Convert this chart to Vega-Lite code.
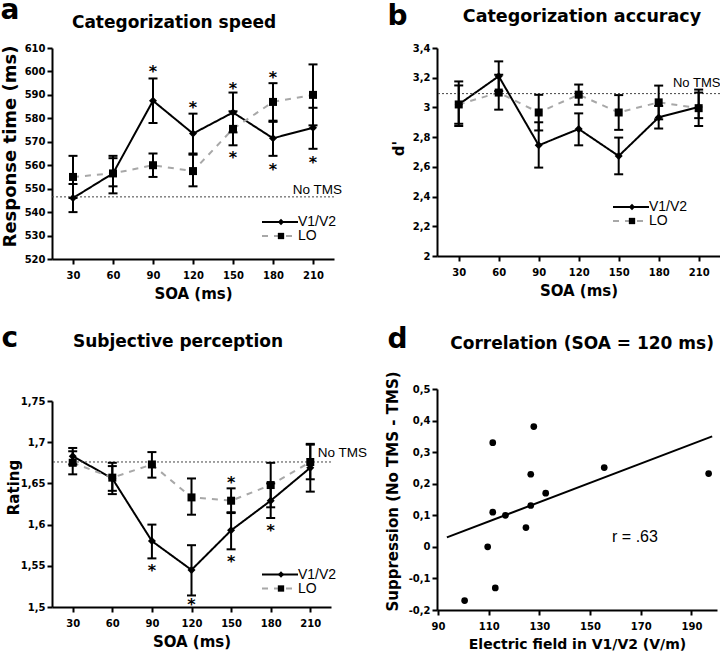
{
  "$schema": "https://vega.github.io/schema/vega-lite/v6.json",
  "background": "white",
  "padding": {"left": 0, "top": -3, "right": 0, "bottom": 0},
  "datasets": {
    "a": [
      {"soa": 30, "series": "V1/V2", "mean": 546, "lo": 540, "hi": 552},
      {"soa": 60, "series": "V1/V2", "mean": 556.5, "lo": 548, "hi": 564},
      {"soa": 90, "series": "V1/V2", "mean": 587.5, "lo": 578, "hi": 597},
      {"soa": 120, "series": "V1/V2", "mean": 573.5, "lo": 565, "hi": 582},
      {"soa": 150, "series": "V1/V2", "mean": 582.5, "lo": 574, "hi": 591},
      {"soa": 180, "series": "V1/V2", "mean": 571.5, "lo": 564, "hi": 578.5},
      {"soa": 210, "series": "V1/V2", "mean": 576, "lo": 567, "hi": 584.5},
      {"soa": 30, "series": "LO", "mean": 555, "lo": 546, "hi": 564},
      {"soa": 60, "series": "LO", "mean": 556.5, "lo": 551, "hi": 563},
      {"soa": 90, "series": "LO", "mean": 560, "lo": 555, "hi": 565},
      {"soa": 120, "series": "LO", "mean": 557.5, "lo": 551, "hi": 564.5},
      {"soa": 150, "series": "LO", "mean": 575.5, "lo": 568.5, "hi": 583},
      {"soa": 180, "series": "LO", "mean": 587, "lo": 579, "hi": 595},
      {"soa": 210, "series": "LO", "mean": 590, "lo": 577, "hi": 603}
    ],
    "a_star": [
      {"soa": 90, "y": 601.5}, {"soa": 120, "y": 586}, {"soa": 150, "y": 594.3},
      {"soa": 150, "y": 564.6}, {"soa": 180, "y": 598.7}, {"soa": 180, "y": 559.7},
      {"soa": 210, "y": 562.5}
    ],
    "b": [
      {"soa": 30, "series": "V1/V2", "mean": 3.02, "lo": 2.875, "hi": 3.175},
      {"soa": 60, "series": "V1/V2", "mean": 3.21, "lo": 3.11, "hi": 3.31},
      {"soa": 90, "series": "V1/V2", "mean": 2.745, "lo": 2.595, "hi": 2.9},
      {"soa": 120, "series": "V1/V2", "mean": 2.855, "lo": 2.745, "hi": 2.96},
      {"soa": 150, "series": "V1/V2", "mean": 2.673, "lo": 2.55, "hi": 2.797},
      {"soa": 180, "series": "V1/V2", "mean": 2.933, "lo": 2.858, "hi": 3.01},
      {"soa": 210, "series": "V1/V2", "mean": 3.003, "lo": 2.875, "hi": 3.12},
      {"soa": 30, "series": "LO", "mean": 3.02, "lo": 2.89, "hi": 3.148},
      {"soa": 60, "series": "LO", "mean": 3.1, "lo": 2.985, "hi": 3.22},
      {"soa": 90, "series": "LO", "mean": 2.966, "lo": 2.845, "hi": 3.085},
      {"soa": 120, "series": "LO", "mean": 3.086, "lo": 3.018, "hi": 3.154},
      {"soa": 150, "series": "LO", "mean": 2.966, "lo": 2.849, "hi": 3.083},
      {"soa": 180, "series": "LO", "mean": 3.034, "lo": 2.92, "hi": 3.147},
      {"soa": 210, "series": "LO", "mean": 2.995, "lo": 2.928, "hi": 3.1}
    ],
    "c": [
      {"soa": 30, "series": "V1/V2", "mean": 1.683, "lo": 1.673, "hi": 1.693},
      {"soa": 60, "series": "V1/V2", "mean": 1.656, "lo": 1.637, "hi": 1.675},
      {"soa": 90, "series": "V1/V2", "mean": 1.58, "lo": 1.559, "hi": 1.6},
      {"soa": 120, "series": "V1/V2", "mean": 1.545, "lo": 1.514, "hi": 1.575},
      {"soa": 150, "series": "V1/V2", "mean": 1.593, "lo": 1.57, "hi": 1.615},
      {"soa": 180, "series": "V1/V2", "mean": 1.629, "lo": 1.608, "hi": 1.65},
      {"soa": 210, "series": "V1/V2", "mean": 1.669, "lo": 1.64, "hi": 1.697},
      {"soa": 30, "series": "LO", "mean": 1.675, "lo": 1.661, "hi": 1.689},
      {"soa": 60, "series": "LO", "mean": 1.657, "lo": 1.641, "hi": 1.671},
      {"soa": 90, "series": "LO", "mean": 1.673, "lo": 1.657, "hi": 1.688},
      {"soa": 120, "series": "LO", "mean": 1.633, "lo": 1.612, "hi": 1.656},
      {"soa": 150, "series": "LO", "mean": 1.629, "lo": 1.614, "hi": 1.644},
      {"soa": 180, "series": "LO", "mean": 1.648, "lo": 1.621, "hi": 1.675},
      {"soa": 210, "series": "LO", "mean": 1.676, "lo": 1.655, "hi": 1.698}
    ],
    "c_star": [
      {"soa": 90, "y": 1.549}, {"soa": 120, "y": 1.507}, {"soa": 150, "y": 1.655},
      {"soa": 150, "y": 1.559}, {"soa": 180, "y": 1.597}
    ],
    "d": [
      {"field": 100.5, "supp": -0.17}, {"field": 111.6, "supp": 0.33},
      {"field": 127.8, "supp": 0.381}, {"field": 111.6, "supp": 0.11},
      {"field": 116.6, "supp": 0.1}, {"field": 109.6, "supp": 0.0},
      {"field": 112.6, "supp": -0.13}, {"field": 124.7, "supp": 0.061},
      {"field": 126.6, "supp": 0.23}, {"field": 126.6, "supp": 0.131},
      {"field": 132.5, "supp": 0.17}, {"field": 155.6, "supp": 0.251},
      {"field": 196.8, "supp": 0.232}
    ],
    "d_fit": [{"field": 93.5, "supp": 0.03}, {"field": 198.2, "supp": 0.35}],
    "one": [{}]
  },
  "resolve": {
    "scale": {"color": "independent", "strokeDash": "independent", "shape": "independent"},
    "legend": {"color": "independent", "strokeDash": "independent", "shape": "independent"}
  },
  "hconcat": [
    {
      "resolve": {
        "scale": {"color": "independent", "strokeDash": "independent", "shape": "independent"},
        "legend": {"color": "independent", "strokeDash": "independent", "shape": "independent"}
      },
      "vconcat": [
        {
          "width": 282, "height": 211,
          "layer": [
            {"data": {"name": "a"}, "mark": {"type": "line", "strokeWidth": 2},
             "encoding": {
               "x": {"field": "soa", "type": "quantitative", "scale": {"domain": [14.25, 225.75], "nice": false, "zero": false},
                     "axis": {"values": [30, 60, 90, 120, 150, 180, 210], "tickCount": 20, "title": "SOA (ms)", "titleFontSize": 15}},
               "y": {"field": "mean", "type": "quantitative", "scale": {"domain": [520, 610], "nice": false, "zero": false},
                     "axis": {"values": [520, 530, 540, 550, 560, 570, 580, 590, 600, 610], "tickCount": 20, "title": "Response time (ms)", "titleFontSize": 18, "titleY": 98, "titlePadding": 5}},
               "color": {"field": "series", "type": "nominal", "scale": {"domain": ["V1/V2", "LO"], "range": ["black", "#a8a8a8"]},
                         "legend": {"orient": "none", "legendX": 221, "legendY": 167, "title": null, "symbolType": "M-3.6,0H3.6", "symbolSize": 100, "symbolStrokeWidth": 2, "labelOffset": 11, "rowPadding": -2}},
               "strokeDash": {"field": "series", "type": "nominal", "scale": {"domain": ["V1/V2", "LO"], "range": [[1, 0], [6, 6]]},
                         "legend": {"orient": "none", "legendX": 221, "legendY": 167, "title": null, "symbolType": "M-3.6,0H3.6", "symbolSize": 100, "symbolStrokeWidth": 2, "labelOffset": 11, "rowPadding": -2}}
             }},
            {"data": {"name": "one"}, "mark": {"type": "text", "text": "a", "font": "DejaVu Sans", "fontWeight": "bold", "fontSize": 28, "align": "left", "baseline": "alphabetic"},
             "encoding": {"x": {"datum": -24.4, "type": "quantitative"}, "y": {"datum": 622.25, "type": "quantitative"}}},
            {"data": {"name": "one"}, "mark": {"type": "text", "text": "Categorization speed", "font": "DejaVu Sans", "fontWeight": "bold", "fontSize": 17, "align": "center", "baseline": "alphabetic"},
             "encoding": {"x": {"datum": 105.75, "type": "quantitative"}, "y": {"datum": 618.66, "type": "quantitative"}}},
            {"data": {"name": "one"}, "mark": {"type": "rule", "strokeDash": [2, 2], "color": "#444", "strokeWidth": 1},
             "encoding": {"y": {"datum": 546.5, "type": "quantitative"}}},
            {"data": {"name": "one"}, "mark": {"type": "text", "text": "No TMS", "font": "Liberation Sans", "fontSize": 13.5, "align": "right", "baseline": "alphabetic"},
             "encoding": {"x": {"datum": 231.75, "type": "quantitative"}, "y": {"datum": 547.85, "type": "quantitative"}}},
            {"data": {"name": "a"}, "mark": {"type": "rule", "strokeWidth": 2, "color": "black"},
             "encoding": {"x": {"field": "soa", "type": "quantitative"}, "y": {"field": "lo", "type": "quantitative"}, "y2": {"field": "hi"}}},
            {"data": {"name": "a"}, "mark": {"type": "tick", "orient": "horizontal", "size": 9, "thickness": 2, "color": "black", "opacity": 1},
             "encoding": {"x": {"field": "soa", "type": "quantitative"}, "y": {"field": "lo", "type": "quantitative"}}},
            {"data": {"name": "a"}, "mark": {"type": "tick", "orient": "horizontal", "size": 9, "thickness": 2, "color": "black", "opacity": 1},
             "encoding": {"x": {"field": "soa", "type": "quantitative"}, "y": {"field": "hi", "type": "quantitative"}}},
            {"data": {"name": "a"}, "mark": {"type": "point", "filled": true, "opacity": 1, "color": "black", "size": 64},
             "encoding": {"x": {"field": "soa", "type": "quantitative"}, "y": {"field": "mean", "type": "quantitative"},
               "shape": {"field": "series", "type": "nominal", "sort": ["V1/V2", "LO"], "scale": {"range": ["diamond", "square"]},
                         "legend": {"orient": "none", "legendX": 222, "legendY": 167, "title": null, "symbolSize": 40, "symbolFillColor": "black", "symbolStrokeWidth": 0, "labelExpr": "''", "rowPadding": -2}}}},
            {"data": {"name": "a_star"}, "mark": {"type": "text", "text": "*", "font": "DejaVu Sans", "fontWeight": "bold", "fontSize": 16, "baseline": "alphabetic", "dy": 9},
             "encoding": {"x": {"field": "soa", "type": "quantitative"}, "y": {"field": "y", "type": "quantitative"}}}
          ]
        },
        {
          "width": 279, "height": 206,
          "layer": [
            {"data": {"name": "c"}, "mark": {"type": "line", "strokeWidth": 2},
             "encoding": {
               "x": {"field": "soa", "type": "quantitative", "scale": {"domain": [14.3, 225.7], "nice": false, "zero": false},
                     "axis": {"values": [30, 60, 90, 120, 150, 180, 210], "tickCount": 20, "title": "SOA (ms)", "titleFontSize": 15}},
               "y": {"field": "mean", "type": "quantitative", "scale": {"domain": [1.5, 1.75], "nice": false, "zero": false},
                     "axis": {"values": [1.5, 1.55, 1.6, 1.65, 1.7, 1.75], "tickCount": 20, "labelExpr": "replace(toString(datum.value), '.', ',')", "title": "Rating", "titleFontSize": 15, "titleY": 86, "titlePadding": -1}},
               "color": {"field": "series", "type": "nominal", "scale": {"domain": ["V1/V2", "LO"], "range": ["black", "#a8a8a8"]},
                         "legend": {"orient": "none", "legendX": 221, "legendY": 166.5, "title": null, "symbolType": "M-3.6,0H3.6", "symbolSize": 100, "symbolStrokeWidth": 2, "labelOffset": 11, "rowPadding": -2}},
               "strokeDash": {"field": "series", "type": "nominal", "scale": {"domain": ["V1/V2", "LO"], "range": [[1, 0], [6, 6]]},
                         "legend": {"orient": "none", "legendX": 221, "legendY": 166.5, "title": null, "symbolType": "M-3.6,0H3.6", "symbolSize": 100, "symbolStrokeWidth": 2, "labelOffset": 11, "rowPadding": -2}}
             }},
            {"data": {"name": "one"}, "mark": {"type": "text", "text": "c", "font": "DejaVu Sans", "fontWeight": "bold", "fontSize": 28, "align": "left", "baseline": "alphabetic"},
             "encoding": {"x": {"datum": -23.96, "type": "quantitative"}, "y": {"datum": 1.8155, "type": "quantitative"}}},
            {"data": {"name": "one"}, "mark": {"type": "text", "text": "Subjective perception", "font": "DejaVu Sans", "fontWeight": "bold", "fontSize": 17, "align": "center", "baseline": "alphabetic"},
             "encoding": {"x": {"datum": 109.77, "type": "quantitative"}, "y": {"datum": 1.8152, "type": "quantitative"}}},
            {"data": {"name": "one"}, "mark": {"type": "rule", "strokeDash": [2, 2], "color": "#444", "strokeWidth": 1},
             "encoding": {"y": {"datum": 1.676, "type": "quantitative"}}},
            {"data": {"name": "one"}, "mark": {"type": "text", "text": "No TMS", "font": "Liberation Sans", "fontSize": 13.5, "align": "left", "baseline": "alphabetic"},
             "encoding": {"x": {"datum": 215.6, "type": "quantitative"}, "y": {"datum": 1.682, "type": "quantitative"}}},
            {"data": {"name": "c"}, "mark": {"type": "rule", "strokeWidth": 2, "color": "black"},
             "encoding": {"x": {"field": "soa", "type": "quantitative"}, "y": {"field": "lo", "type": "quantitative"}, "y2": {"field": "hi"}}},
            {"data": {"name": "c"}, "mark": {"type": "tick", "orient": "horizontal", "size": 9, "thickness": 2, "color": "black", "opacity": 1},
             "encoding": {"x": {"field": "soa", "type": "quantitative"}, "y": {"field": "lo", "type": "quantitative"}}},
            {"data": {"name": "c"}, "mark": {"type": "tick", "orient": "horizontal", "size": 9, "thickness": 2, "color": "black", "opacity": 1},
             "encoding": {"x": {"field": "soa", "type": "quantitative"}, "y": {"field": "hi", "type": "quantitative"}}},
            {"data": {"name": "c"}, "mark": {"type": "point", "filled": true, "opacity": 1, "color": "black", "size": 64},
             "encoding": {"x": {"field": "soa", "type": "quantitative"}, "y": {"field": "mean", "type": "quantitative"},
               "shape": {"field": "series", "type": "nominal", "sort": ["V1/V2", "LO"], "scale": {"range": ["diamond", "square"]},
                         "legend": {"orient": "none", "legendX": 222, "legendY": 166.5, "title": null, "symbolSize": 40, "symbolFillColor": "black", "symbolStrokeWidth": 0, "labelExpr": "''", "rowPadding": -2}}}},
            {"data": {"name": "c_star"}, "mark": {"type": "text", "text": "*", "font": "DejaVu Sans", "fontWeight": "bold", "fontSize": 16, "baseline": "alphabetic", "dy": 9},
             "encoding": {"x": {"field": "soa", "type": "quantitative"}, "y": {"field": "y", "type": "quantitative"}}}
          ]
        }
      ],
      "spacing": 142,
      "bounds": "flush"
    },
    {
      "resolve": {
        "scale": {"color": "independent", "strokeDash": "independent", "shape": "independent"},
        "legend": {"color": "independent", "strokeDash": "independent", "shape": "independent"}
      },
      "vconcat": [
        {
          "width": 283, "height": 208,
          "layer": [
            {"data": {"name": "b"}, "mark": {"type": "line", "strokeWidth": 2},
             "encoding": {
               "x": {"field": "soa", "type": "quantitative", "scale": {"domain": [13.7, 226], "nice": false, "zero": false},
                     "axis": {"values": [30, 60, 90, 120, 150, 180, 210], "tickCount": 20, "title": "SOA (ms)", "titleFontSize": 15}},
               "y": {"field": "mean", "type": "quantitative", "scale": {"domain": [2, 3.4], "nice": false, "zero": false},
                     "axis": {"values": [2, 2.2, 2.4, 2.6, 2.8, 3, 3.2, 3.4], "tickCount": 20, "labelExpr": "replace(toString(datum.value), '.', ',')", "title": "d'", "titleFontSize": 15, "titleY": 100, "titlePadding": 6}},
               "color": {"field": "series", "type": "nominal", "scale": {"domain": ["V1/V2", "LO"], "range": ["black", "#a8a8a8"]},
                         "legend": {"orient": "none", "legendX": 187, "legendY": 152, "title": null, "symbolType": "M-3.6,0H3.6", "symbolSize": 100, "symbolStrokeWidth": 2, "labelOffset": 11, "rowPadding": -2}},
               "strokeDash": {"field": "series", "type": "nominal", "scale": {"domain": ["V1/V2", "LO"], "range": [[1, 0], [6, 6]]},
                         "legend": {"orient": "none", "legendX": 187, "legendY": 152, "title": null, "symbolType": "M-3.6,0H3.6", "symbolSize": 100, "symbolStrokeWidth": 2, "labelOffset": 11, "rowPadding": -2}}
             }},
            {"data": {"name": "one"}, "mark": {"type": "text", "text": "b", "font": "DejaVu Sans", "fontWeight": "bold", "fontSize": 28, "align": "left", "baseline": "alphabetic"},
             "encoding": {"x": {"datum": -23.4, "type": "quantitative"}, "y": {"datum": 3.555, "type": "quantitative"}}},
            {"data": {"name": "one"}, "mark": {"type": "text", "text": "Categorization accuracy", "font": "DejaVu Sans", "fontWeight": "bold", "fontSize": 17.5, "align": "center", "baseline": "alphabetic"},
             "encoding": {"x": {"datum": 122.45, "type": "quantitative"}, "y": {"datum": 3.577, "type": "quantitative"}}},
            {"data": {"name": "one"}, "mark": {"type": "rule", "strokeDash": [2, 2], "color": "#444", "strokeWidth": 1},
             "encoding": {"y": {"datum": 3.093, "type": "quantitative"}}},
            {"data": {"name": "one"}, "mark": {"type": "text", "text": "No TMS", "font": "Liberation Sans", "fontSize": 13, "align": "left", "baseline": "alphabetic"},
             "encoding": {"x": {"datum": 190.7, "type": "quantitative"}, "y": {"datum": 3.14, "type": "quantitative"}}},
            {"data": {"name": "b"}, "mark": {"type": "rule", "strokeWidth": 2, "color": "black"},
             "encoding": {"x": {"field": "soa", "type": "quantitative"}, "y": {"field": "lo", "type": "quantitative"}, "y2": {"field": "hi"}}},
            {"data": {"name": "b"}, "mark": {"type": "tick", "orient": "horizontal", "size": 9, "thickness": 2, "color": "black", "opacity": 1},
             "encoding": {"x": {"field": "soa", "type": "quantitative"}, "y": {"field": "lo", "type": "quantitative"}}},
            {"data": {"name": "b"}, "mark": {"type": "tick", "orient": "horizontal", "size": 9, "thickness": 2, "color": "black", "opacity": 1},
             "encoding": {"x": {"field": "soa", "type": "quantitative"}, "y": {"field": "hi", "type": "quantitative"}}},
            {"data": {"name": "b"}, "mark": {"type": "point", "filled": true, "opacity": 1, "color": "black", "size": 64},
             "encoding": {"x": {"field": "soa", "type": "quantitative"}, "y": {"field": "mean", "type": "quantitative"},
               "shape": {"field": "series", "type": "nominal", "sort": ["V1/V2", "LO"], "scale": {"range": ["diamond", "square"]},
                         "legend": {"orient": "none", "legendX": 188, "legendY": 152, "title": null, "symbolSize": 40, "symbolFillColor": "black", "symbolStrokeWidth": 0, "labelExpr": "''", "rowPadding": -2}}}}
          ]
        },
        {
          "width": 280, "height": 221,
          "layer": [
            {"data": {"name": "d_fit"}, "mark": {"type": "line", "strokeWidth": 2, "color": "black"},
             "encoding": {
               "x": {"field": "field", "type": "quantitative", "scale": {"domain": [89.6, 200.1], "nice": false, "zero": false},
                     "axis": {"values": [90, 110, 130, 150, 170, 190], "tickCount": 20, "title": "Electric field in V1/V2 (V/m)", "titleFontSize": 14}},
               "y": {"field": "supp", "type": "quantitative", "scale": {"domain": [-0.2, 0.5], "nice": false, "zero": false},
                     "axis": {"values": [-0.2, -0.1, 0, 0.1, 0.2, 0.3, 0.4, 0.5], "tickCount": 20, "labelExpr": "replace(toString(datum.value), '.', ',')", "title": "Suppression (No TMS - TMS)", "titleFontSize": 15, "titleY": 102}}
             }},
            {"data": {"name": "one"}, "mark": {"type": "text", "text": "d", "font": "DejaVu Sans", "fontWeight": "bold", "fontSize": 28, "align": "left", "baseline": "alphabetic"},
             "encoding": {"x": {"datum": 70.06, "type": "quantitative"}, "y": {"datum": 0.63, "type": "quantitative"}}},
            {"data": {"name": "one"}, "mark": {"type": "text", "text": "Correlation (SOA = 120 ms)", "font": "DejaVu Sans", "fontWeight": "bold", "fontSize": 17, "align": "center", "baseline": "alphabetic"},
             "encoding": {"x": {"datum": 146.85, "type": "quantitative"}, "y": {"datum": 0.628, "type": "quantitative"}}},
            {"data": {"name": "d"}, "mark": {"type": "point", "filled": true, "opacity": 1, "color": "black", "size": 45, "shape": "circle"},
             "encoding": {"x": {"field": "field", "type": "quantitative"}, "y": {"field": "supp", "type": "quantitative"}}},
            {"data": {"name": "one"}, "mark": {"type": "text", "text": "r = .63", "font": "Liberation Sans", "fontSize": 16, "align": "left", "baseline": "alphabetic"},
             "encoding": {"x": {"datum": 158.7, "type": "quantitative"}, "y": {"datum": 0.0158, "type": "quantitative"}}}
          ]
        }
      ],
      "spacing": 133,
      "bounds": "flush"
    }
  ],
  "spacing": 17,
  "bounds": "full",
  "config": {
    "view": {"stroke": null},
    "axis": {"domainColor": "black", "domainWidth": 2, "tickColor": "black", "tickWidth": 2, "tickSize": 5,
             "labelFont": "DejaVu Sans", "labelFontWeight": "bold", "labelFontSize": 10, "labelColor": "black",
             "titleFont": "DejaVu Sans", "titleFontWeight": "bold", "titleColor": "black", "grid": false,
             "labelFlush": false, "labelOverlap": false},
    "axisY": {"labelPadding": 2, "titlePadding": 8},
    "axisX": {"labelPadding": 6, "titlePadding": 6},
    "legend": {"labelFont": "Liberation Sans", "labelFontSize": 14, "labelColor": "black", "padding": 0},
    "text": {"color": "black"}
  }
}
